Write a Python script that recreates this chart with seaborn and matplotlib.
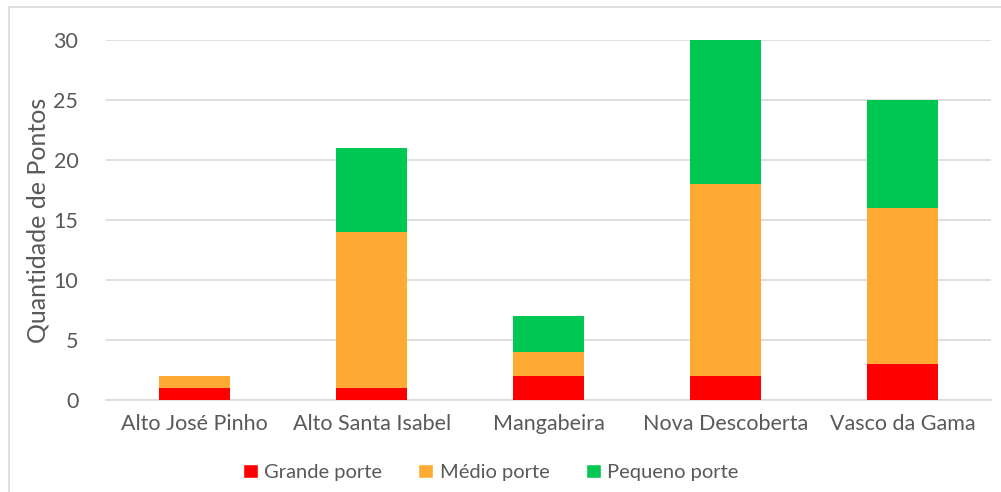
import pandas as pd
import numpy as np
import matplotlib.pyplot as plt
import seaborn as sns
from matplotlib.patches import Rectangle, Patch

# -----------------------------------------------------
# DATA
# -----------------------------------------------------

bairros = ["Alto José Pinho", "Alto Santa Isabel", "Mangabeira",
           "Nova Descoberta", "Vasco da Gama"]
grande = [1, 1, 2, 2, 3]
medio = [1, 13, 2, 16, 13]
pequeno = [0, 7, 3, 12, 9]

series = ["Grande porte", "Médio porte", "Pequeno porte"]
colors = ["#FF0000", "#FFAA33", "#00C853"]

df = pd.DataFrame({"Bairro": bairros, "Grande porte": grande,
                   "Médio porte": medio, "Pequeno porte": pequeno})

# cumulative tops for stacking
cum = df[series].cumsum(axis=1)

# -----------------------------------------------------
# PLOT
# -----------------------------------------------------

sns.set_style("white")
plt.rcParams["font.family"] = ["Lato", "DejaVu Sans"]

fig = plt.figure(figsize=(10.01, 4.92), dpi=100)
ax = fig.add_axes([0.106, 0.187, 0.884, 0.732])

fig.patches.append(Rectangle((0.009, -0.01), 1.2, 0.996, transform=fig.transFigure,
                             fill=False, edgecolor="#D9D9D9", linewidth=1.2))

# draw from the top segment down so lower segments cover upper ones
for s, c in zip(series[::-1], colors[::-1]):
    sns.barplot(x=df["Bairro"], y=cum[s], color=c, width=0.4,
                saturation=1, linewidth=0, ax=ax, zorder=3)

ax.set_xlim(-0.5, 4.5)
ax.set_ylim(0, 30)
ax.set_yticks(np.arange(0, 31, 5))
ax.yaxis.grid(True, color="#D9D9D9", linewidth=1.2, zorder=0)
ax.set_axisbelow(True)
for sp in ["top", "right", "left"]:
    ax.spines[sp].set_visible(False)
ax.spines["bottom"].set_color("#D9D9D9")
ax.spines["bottom"].set_linewidth(1.2)

ax.tick_params(axis="both", length=0, labelsize=15.5, colors="#595959")
ax.tick_params(axis="y", pad=20)
ax.tick_params(axis="x", pad=10)
ax.set_xlabel("")
ax.set_ylabel("Quantidade de Pontos", fontsize=18, color="#595959", labelpad=3)

handles = [Patch(facecolor=c, label=s) for s, c in zip(series, colors)]
fig.legend(handles=handles, loc="center", bbox_to_anchor=(0.49, 0.04), ncol=3,
           frameon=False, fontsize=14.5, labelcolor="#595959",
           handlelength=0.75, handleheight=0.75, handletextpad=0.3, columnspacing=1.8)

plt.savefig("out.png", dpi=100)
